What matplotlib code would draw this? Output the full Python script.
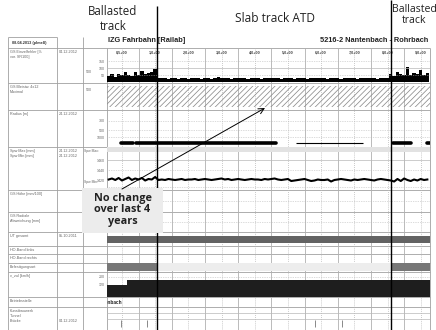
# Track recording chart (Railab) with ballasted / slab track annotations
import numpy as np
import matplotlib.pyplot as plt
from matplotlib.patches import Rectangle

W, H = 436, 330
plt.rcParams['hatch.linewidth'] = 0.55
plt.rcParams['font.family'] = ['Liberation Sans', 'DejaVu Sans']

# km axis (chart units)
km_pos = [0, 1, 2, 3, 4, 5, 6, 7, 8, 9]
km_labels = ['0,5+00', '1,0+00', '2,0+00', '3,0+00', '4,0+00',
             '5,0+00', '6,0+00', '7,0+00', '8,0+00', '9,0+00']
KMIN, KMAX = -0.45, 9.28
X0, X1 = 107, 430          # chart area in pixels

# GS Einzelfehler, one value every 0.1 km
gs_km = np.round(np.arange(-0.4, 9.25, 0.1), 2)
gs_val = ([42, 55, 38, 60, 48, 75, 50, 45, 68, 53, 80, 58, 62, 72, 95] +
          [30, 26, 28, 24, 27, 32, 25, 29, 27, 24, 28, 31, 26, 25, 30, 27, 24, 28, 34, 26,
           27, 29, 25, 28, 26, 31, 27, 24, 29, 26, 28, 25, 30, 27, 26, 32, 28, 25, 27, 29,
           26, 24, 28, 31, 27, 25, 29, 26, 28, 30, 27, 25, 26, 29, 28, 24, 27, 31, 26, 28,
           25, 29, 27, 26, 30, 28, 25, 27, 29, 32] +
          [60, 45, 75, 55, 50, 105, 52, 66, 58, 88, 50, 62])

# Radius segments
rad_start = [-0.03, 0.42, 5.24, 8.16, 9.2]
rad_end = [0.33, 4.64, 7.26, 8.7, 9.28]
rad_R = [7700, 7700, 7700, 7700, 7700]
rad_thick = [True, True, False, True, True]

# Gauge (Spurweite) trace
gauge = ([1421, 1423, 1420, 1424, 1419, 1422, 1425, 1420, 1423, 1421, 1424, 1419, 1422, 1421, 1426] +
         [1420, 1421, 1420, 1422, 1421, 1420, 1421, 1422, 1420, 1421, 1421, 1422, 1420, 1421, 1422,
          1421, 1420, 1421, 1422, 1423, 1421, 1422, 1420, 1421, 1422, 1421, 1420, 1421, 1422, 1421,
          1421, 1420, 1422, 1421, 1422, 1423, 1421, 1420, 1421, 1422, 1418, 1419, 1420, 1421, 1422,
          1420, 1418, 1419, 1421, 1420, 1420, 1421, 1417, 1420, 1421, 1422, 1421, 1420, 1419, 1421,
          1420, 1421, 1422, 1421, 1420, 1419, 1421, 1422, 1421, 1420] +
         [1419, 1417, 1422, 1418, 1423, 1420, 1418, 1421, 1419, 1422, 1420, 1421])

# UT gesamt
ut_start, ut_end = [KMIN], [KMAX]
# Befestigungsart
bef_start = [KMIN, 1.05, 8.1]
bef_end = [1.05, 8.1, KMAX]
bef_type = ['Schotter', 'FF', 'Schotter']
# v_zul
vz_start = [KMIN, 0.15]
vz_end = [0.15, KMAX]
vz_val = [120, 170]
# Kunstbauwerke (Brücke)
bridge_km = [-0.03, 0.75, 5.81, 6.63]
# ballasted / slab boundaries
ballast_edges = [1.05, 8.1]

row_edges = [48, 83, 110, 147, 190, 212, 232, 246, 254, 263, 272, 297, 307]
row_names = ['GS Einzelfehler [%\nvor. SR100]', 'GS Bleistw. 4x12\nMaximal', 'Radius [m]',
             'Spw Max [mm]\nSpw Min [mm]', 'GS Höhe [mm/100]', 'GS Radiale\nAbweichung [mm]',
             'UT gesamt', 'HO-Band links', 'HO-Band rechts', 'Befestigungsart',
             'v_zul [km/h]', 'Betriebsstelle', 'Kunstbauwerk\nTunnel\nBrücke']
row_dates = ['04.12.2012', '', '24.12.2012', '24.12.2012\n24.12.2012', '', '',
             '05.10.2011', '', '', '', '', '', '\n\n04.12.2012']


def km2px(k):
    return X0 + (k - KMIN) / (KMAX - KMIN) * (X1 - X0)


def fig_rect(x0, y0, x1, y1):
    return [x0 / W, 1 - y1 / H, (x1 - x0) / W, (y1 - y0) / H]


fig = plt.figure(figsize=(W / 100, H / 100), dpi=100)
fig.patch.set_facecolor('white')

# table frame
ax0 = fig.add_axes([0, 0, 1, 1])
ax0.set_xlim(0, W)
ax0.set_ylim(H, 0)
ax0.axis('off')
lc = '#a0a0a0'
ax0.hlines(37, 8, 57, color=lc, lw=0.6)
ax0.hlines(row_edges, 8, X1, color=lc, lw=0.6)
ax0.vlines([8, 57, 83], 37, H, color=lc, lw=0.6)
ax0.vlines([X0], 48, H, color=lc, lw=0.6)
ax0.vlines([X1], 48, H, color=lc, lw=0.6)
ax0.text(12, 43, '08.04.2013 (plmeß)', fontsize=2.8, fontweight='bold', va='center', color='#333')
ax0.text(108, 41, 'IZG Fahrbahn [Railab]', fontsize=5.3, fontweight='bold', va='center', color='#222')
ax0.text(428, 41, '5216-2 Nantenbach - Rohrbach', fontsize=5.3, fontweight='bold',
         va='center', ha='right', color='#222')
for y, name, date in zip(row_edges, row_names, row_dates):
    ax0.text(10, y + 2, name, fontsize=2.7, va='top', color='#666', linespacing=1.3)
    if date:
        ax0.text(58.5, y + 2, date, fontsize=2.7, va='top', color='#666', linespacing=1.3)
ax0.text(86, 72, '500', fontsize=2.6, va='center', color='#666')
ax0.text(86, 90, '500', fontsize=2.6, va='center', color='#666')
ax0.text(84, 151, 'Spw Max:', fontsize=2.4, va='center', color='#666')
ax0.text(84, 182, 'Spw Min:', fontsize=2.4, va='center', color='#666')

# vertical grid of the chart area
axg = fig.add_axes(fig_rect(X0, 48, X1, H))
axg.set_xlim(KMIN, KMAX)
axg.set_ylim(0, 1)
axg.axis('off')
for k in km_pos:
    axg.axvline(k, ls=(0, (1, 1.5)), color='#b8b8b8', lw=0.6)
for k in km_pos[:-1]:
    axg.axvline(k + 0.5, color='#b0b0b0', lw=0.6)


def row_ax(y0, y1, ylim):
    ax = fig.add_axes(fig_rect(X0, y0, X1, y1))
    ax.set_xlim(KMIN, KMAX)
    ax.set_ylim(*ylim)
    ax.patch.set_alpha(0)
    for s in ax.spines.values():
        s.set_visible(False)
    ax.set_xticks([])
    ax.set_yticks([])
    ax.tick_params(axis='y', length=0, labelsize=2.6, pad=1.5, labelcolor='#666')
    return ax


def hgrid(ax, vals, dotted=True):
    for v in vals:
        ax.axhline(v, color='#b8b8b8', lw=0.5, ls=(0, (1, 1.5)) if dotted else '-')


# GS Einzelfehler
ax1 = row_ax(48, 83, (-7.1, 243))
for k, lab in zip(km_pos, km_labels):
    ax1.text(k, 0.88, lab, transform=ax1.get_xaxis_transform(), ha='center', va='center',
             fontsize=2.7, fontweight='bold', color='#444')
hgrid(ax1, [150, 50])
hgrid(ax1, [100], dotted=False)
ax1.bar(gs_km, gs_val, width=0.1, color='black', lw=0)
ax1.set_yticks([150, 100, 50], ['150', '100', '50'])

# GS Bleistw.
ax2 = row_ax(83, 110, (0, 1))
ax2.fill_between([KMIN, KMAX], 0.12, 0.88, facecolor='none', edgecolor='#8c8c8c',
                 hatch='//////', lw=0)

# Radius (curvature scale 1000/R)
ax3 = row_ax(110, 147, (-0.455, 4.93))
hgrid(ax3, [1000 / 300, 1000 / 500, 1000 / 1000])
ax3.set_yticks([1000 / 300, 1000 / 500, 1000 / 1000], ['300', '500', '1000'])
for s, e, r, t in zip(rad_start, rad_end, rad_R, rad_thick):
    ax3.plot([s, e], [1000 / r, 1000 / r], color='black', lw=2.6 if t else 0.8,
             solid_capstyle='round' if t else 'butt')

# Spurweite
ax4 = row_ax(147, 190, (1400, 1486))
ax4.axhspan(1476, 1486, color='#e2e2e2', lw=0)
hgrid(ax4, [1460], dotted=False)
hgrid(ax4, [1440, 1406])
ax4.plot(gs_km, gauge, color='black', lw=1.5)
ax4.set_yticks([1460, 1440, 1420], ['1460', '1440', '1420'])

# empty rows with dotted guides
ax5 = row_ax(190, 212, (0, 1))
hgrid(ax5, [0.5])
ax6 = row_ax(212, 232, (0, 1))
hgrid(ax6, [0.5])

# UT gesamt
ax7 = row_ax(232, 246, (0, 1))
ax7.barh([0.5] * len(ut_start), np.subtract(ut_end, ut_start), left=ut_start,
         height=0.5, color='#636363', lw=0)

# Befestigungsart
ax10 = row_ax(263, 272, (0, 1))
bef_color = {'Schotter': '#777777', 'FF': '#ededed'}
ax10.barh([0.55] * len(bef_start), np.subtract(bef_end, bef_start), left=bef_start,
          height=0.85, color=[bef_color[t] for t in bef_type], lw=0)

# v_zul
ax11 = row_ax(272, 297, (0, 250))
hgrid(ax11, [200])
ax11.bar(vz_start, vz_val, width=np.subtract(vz_end, vz_start), align='edge', color='#1e1e1e', lw=0)
ax11.set_yticks([200, 120], ['200', '120'])

# Betriebsstelle
ax12 = row_ax(297, 307, (0, 1))
ax12.text(0.0, 0.5, 'Nantenbach', ha='right', va='center', fontsize=3.4,
          fontweight='bold', color='#222', clip_on=True)

# Kunstbauwerk / Tunnel / Brücke
ax13 = row_ax(307, H, (0, 1))
hgrid(ax13, [0.74, 0.48], dotted=False)
ax13.vlines(bridge_km, 0.15, 0.45, color='#888888', lw=0.7)

# annotations on top
axo = fig.add_axes([0, 0, 1, 1])
axo.set_xlim(0, W)
axo.set_ylim(H, 0)
axo.axis('off')
axo.patch.set_alpha(0)
axo.vlines(km2px(ballast_edges[0]), 6, H, color='black', lw=1.0)
axo.vlines(km2px(ballast_edges[1]), 0, H, color='black', lw=1.0)
af = ['Open Sans', 'DejaVu Sans']
axo.text(113, 19, 'Ballasted\ntrack', ha='center', va='center', fontsize=8.3,
         family=af, color='#222', linespacing=1.15)
axo.text(275, 19, 'Slab track ATD', ha='center', va='center', fontsize=8.6,
         family=af, color='#222')
axo.text(414, 15, 'Ballasted\ntrack', ha='center', va='center', fontsize=7.6,
         family=af, color='#222', linespacing=1.1)
axo.add_patch(Rectangle((82, 188), 81, 45, facecolor='#ececec', edgecolor='none', zorder=3))
axo.text(122.5, 210, 'No change\nover last 4\nyears', ha='center', va='center', fontsize=7.8,
         family=af, fontweight='bold', color='#222', linespacing=1.1, zorder=4)
axo.annotate('', xy=(265, 108), xytext=(122, 189),
             arrowprops=dict(arrowstyle='->', lw=0.7, color='black', shrinkA=0, shrinkB=0))

fig.savefig('out.png', dpi=100)
